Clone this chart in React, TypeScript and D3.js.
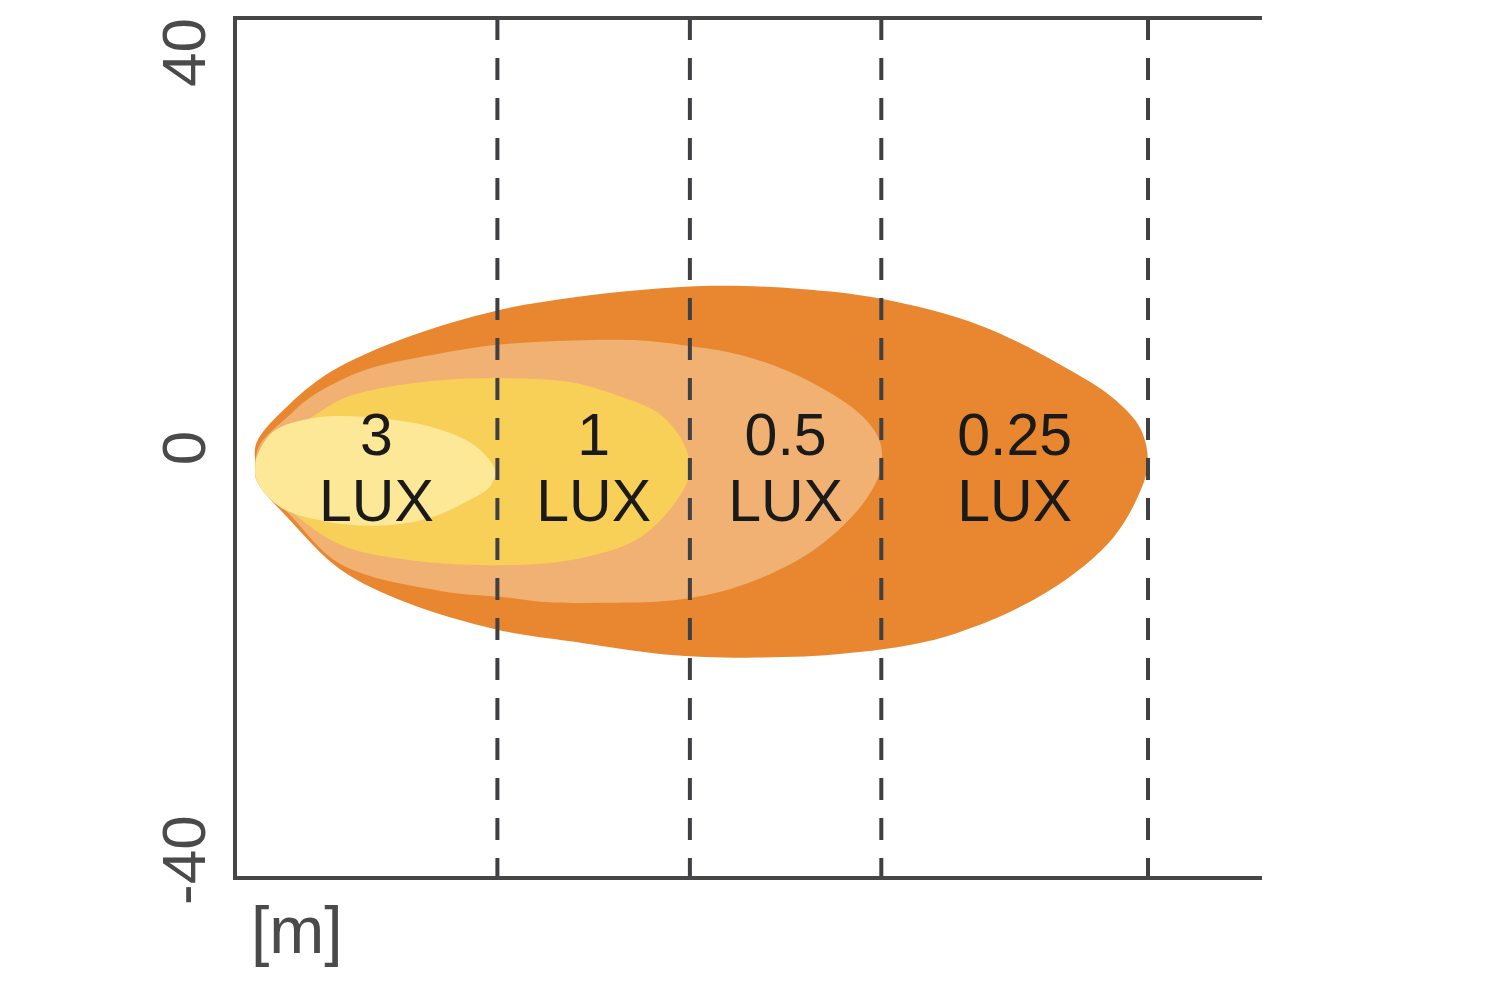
import React from "react";
import * as d3 from "d3";

// ---- data (meters) ----
const yTicks = [40, 0, -40];
const luxLabels = ["3", "1", "0.5", "0.25"];
const reach = [24.4, 42.3, 60.1, 84.9]; // dashed lines = reach of each isolux
const origin: [number, number] = [1.9, -1.6];

// isolux contours, outermost first (x = distance, y = lateral offset)
const lux025: [number, number][] = [
  [1.9, -1.6], [2.0, 0.5], [5.1, 4.1], [9.1, 7.2], [16.0, 10.3], [24.4, 12.8],
  [31.4, 14.0], [37.7, 14.7], [44.5, 15.1], [52.6, 14.8], [60.0, 13.9],
  [69.3, 11.4], [77.0, 7.6], [81.7, 4.6], [84.2, 1.8], [84.9, -1.2],
  [84.5, -3.2], [81.7, -8.3], [75.5, -13.4], [66.2, -17.5], [56.9, -19.1],
  [47.6, -19.5], [40.0, -19.2], [31.4, -18.0], [24.4, -16.9], [16.0, -14.4],
  [9.8, -11.3], [5.1, -6.7], [2.0, -3.0],
];
const lux05: [number, number][] = [
  [1.9, -1.6], [2.3, 0.3], [5.1, 3.1], [6.7, 4.5], [9.8, 6.3], [12.8, 7.5],
  [19.1, 8.8], [24.4, 9.6], [31.4, 10.0], [37.7, 10.0], [41.4, 9.6],
  [47.6, 8.5], [53.8, 6.0], [58.4, 2.9], [60.0, 0.5], [60.1, -1.6],
  [59.7, -3.0], [57.9, -5.8], [53.8, -9.5], [47.6, -12.6], [41.4, -14.1],
  [34.6, -14.4], [28.4, -14.3], [25.3, -13.9], [19.1, -13.3], [9.8, -10.8],
  [5.1, -6.2], [2.3, -3.3],
];
const lux1: [number, number][] = [
  [1.9, -1.6], [2.3, -0.2], [3.5, 0.7], [6.7, 2.6], [9.8, 4.5], [12.8, 5.4],
  [19.1, 6.3], [25.3, 6.5], [31.4, 6.1], [36.1, 4.7], [39.3, 3.3],
  [41.4, 1.0], [42.3, -1.6], [41.7, -3.9], [37.7, -8.3], [31.4, -10.4],
  [23.8, -10.9], [16.0, -10.4], [9.8, -9.0], [5.1, -5.8], [2.3, -3.0],
];
const lux3: [number, number][] = [
  [1.9, -1.6], [2.0, -0.9], [3.5, 1.5], [7.3, 2.8], [11.9, 2.9], [18.1, 2.0],
  [21.9, 0.5], [23.4, -0.8], [24.2, -2.2], [23.7, -3.6], [21.9, -4.8],
  [18.1, -6.5], [13.5, -7.2], [8.8, -6.9], [4.2, -5.5], [2.0, -3.0],
];
const contours = [lux025, lux05, lux1, lux3];
const fills = ["#e8872f", "#f0b173", "#f8d058", "#fde898"];

export default function App() {
  const W = 1500, H = 1000;
  const x = d3.scaleLinear().domain([0, 95.5]).range([235, 1262]);
  const y = d3.scaleLinear().domain([-40, 40]).range([878, 18]);
  const line = d3
    .line<[number, number]>()
    .x((d) => x(d[0]))
    .y((d) => y(d[1]))
    .curve(d3.curveCatmullRomClosed.alpha(0.5));

  const axisColor = "#464646";
  const labelStarts = [origin[0], ...reach.slice(0, 3)];
  const y0 = y(0);
  const font = "'Liberation Sans', Arial, Helvetica, sans-serif";

  return (
    <svg
      width={W}
      height={H}
      style={{ position: "absolute", left: 0, top: 0, background: "#fff" }}
      fontFamily={font}
    >
      <rect width={W} height={H} fill="#fff" />
      {contours.map((c, i) => (
        <path key={i} d={line(c) ?? ""} fill={fills[i]} stroke="none" />
      ))}
      {reach.map((r, i) => (
        <line
          key={i}
          x1={x(r)}
          x2={x(r)}
          y1={y(40)}
          y2={y(-40)}
          stroke="#3e4044"
          strokeWidth={4}
          strokeDasharray="22 18"
        />
      ))}
      {/* frame */}
      <line x1={x(0)} x2={x(95.5)} y1={y(40)} y2={y(40)} stroke={axisColor} strokeWidth={4} />
      <line x1={x(0)} x2={x(95.5)} y1={y(-40)} y2={y(-40)} stroke={axisColor} strokeWidth={4} />
      <line x1={x(0)} x2={x(0)} y1={y(40) - 2} y2={y(-40) + 2} stroke={axisColor} strokeWidth={4} />
      {/* y tick labels */}
      {yTicks.map((t, i) => {
        const anchor = t > 0 ? "end" : t < 0 ? "start" : "middle";
        const ty = t < 0 ? y(t) + 27 : y(t);
        return (
          <text
            key={i}
            transform={`translate(205,${ty}) rotate(-90)`}
            textAnchor={anchor}
            fontSize={62}
            fill="#4a4a4a"
          >
            {t}
          </text>
        );
      })}
      <text x={251} y={953} fontSize={66} fill="#4a4a4a">
        [m]
      </text>
      {/* lux labels */}
      {luxLabels.map((l, i) => {
        const cx = x((labelStarts[i] + reach[i]) / 2);
        return (
          <text key={i} fill="#1a1a1a" fontSize={59} textAnchor="middle" x={cx} y={y0 + 7}>
            <tspan x={cx} y={y0 + 7}>{l}</tspan>
            <tspan x={cx} y={y0 + 73}>LUX</tspan>
          </text>
        );
      })}
    </svg>
  );
}
